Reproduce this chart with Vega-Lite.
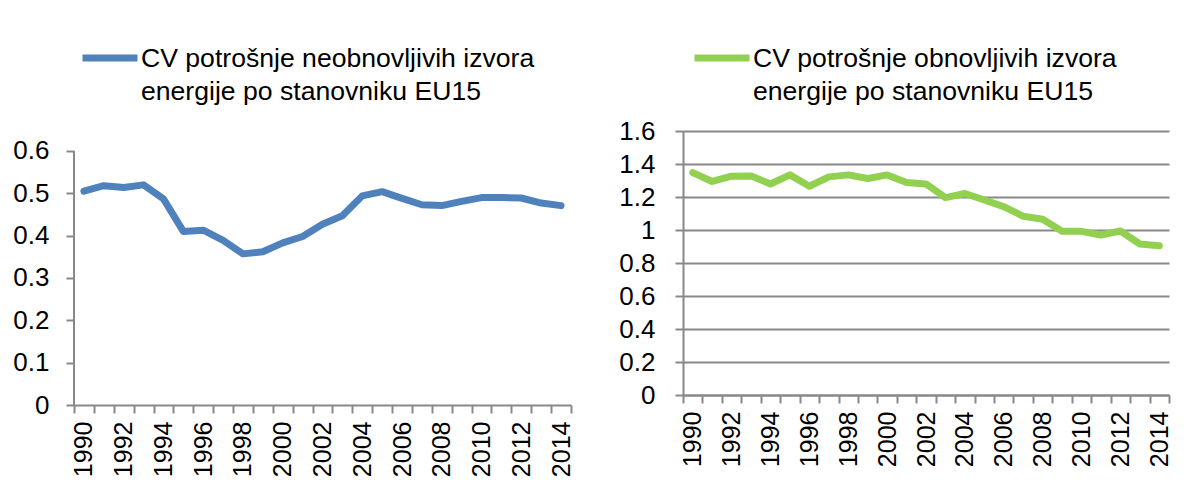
{
  "$schema": "https://vega.github.io/schema/vega-lite/v6.json",
  "background": "white",
  "padding": {"left": 12, "top": 27, "right": 0, "bottom": 0},
  "config": {
    "font": "Liberation Sans",
    "view": {"stroke": null},
    "concat": {"spacing": 43},
    "axis": {
      "title": null,
      "labelFont": "Liberation Sans",
      "labelColor": "#000000",
      "labelFontSize": 26,
      "domainColor": "#888888",
      "domainWidth": 2,
      "tickColor": "#888888",
      "tickWidth": 2,
      "tickSize": 8,
      "gridColor": "#888888",
      "gridWidth": 2
    },
    "legend": {
      "orient": "none",
      "title": null,
      "labelFont": "Liberation Sans",
      "labelFontSize": 26.6,
      "labelColor": "#000000",
      "labelLimit": 0,
      "labelBaseline": "alphabetic",
      "symbolType": "stroke",
      "symbolSize": 3025,
      "symbolStrokeWidth": 7,
      "padding": 0,
      "labelOffset": 0
    }
  },
  "datasets": {
    "nonren": [
      {"year": 1990, "cv": 0.505, "series": "CV potrošnje neobnovljivih izvora|energije po stanovniku EU15"},
      {"year": 1991, "cv": 0.518, "series": "CV potrošnje neobnovljivih izvora|energije po stanovniku EU15"},
      {"year": 1992, "cv": 0.514, "series": "CV potrošnje neobnovljivih izvora|energije po stanovniku EU15"},
      {"year": 1993, "cv": 0.520, "series": "CV potrošnje neobnovljivih izvora|energije po stanovniku EU15"},
      {"year": 1994, "cv": 0.487, "series": "CV potrošnje neobnovljivih izvora|energije po stanovniku EU15"},
      {"year": 1995, "cv": 0.410, "series": "CV potrošnje neobnovljivih izvora|energije po stanovniku EU15"},
      {"year": 1996, "cv": 0.413, "series": "CV potrošnje neobnovljivih izvora|energije po stanovniku EU15"},
      {"year": 1997, "cv": 0.389, "series": "CV potrošnje neobnovljivih izvora|energije po stanovniku EU15"},
      {"year": 1998, "cv": 0.357, "series": "CV potrošnje neobnovljivih izvora|energije po stanovniku EU15"},
      {"year": 1999, "cv": 0.362, "series": "CV potrošnje neobnovljivih izvora|energije po stanovniku EU15"},
      {"year": 2000, "cv": 0.383, "series": "CV potrošnje neobnovljivih izvora|energije po stanovniku EU15"},
      {"year": 2001, "cv": 0.398, "series": "CV potrošnje neobnovljivih izvora|energije po stanovniku EU15"},
      {"year": 2002, "cv": 0.427, "series": "CV potrošnje neobnovljivih izvora|energije po stanovniku EU15"},
      {"year": 2003, "cv": 0.447, "series": "CV potrošnje neobnovljivih izvora|energije po stanovniku EU15"},
      {"year": 2004, "cv": 0.494, "series": "CV potrošnje neobnovljivih izvora|energije po stanovniku EU15"},
      {"year": 2005, "cv": 0.504, "series": "CV potrošnje neobnovljivih izvora|energije po stanovniku EU15"},
      {"year": 2006, "cv": 0.488, "series": "CV potrošnje neobnovljivih izvora|energije po stanovniku EU15"},
      {"year": 2007, "cv": 0.473, "series": "CV potrošnje neobnovljivih izvora|energije po stanovniku EU15"},
      {"year": 2008, "cv": 0.471, "series": "CV potrošnje neobnovljivih izvora|energije po stanovniku EU15"},
      {"year": 2009, "cv": 0.481, "series": "CV potrošnje neobnovljivih izvora|energije po stanovniku EU15"},
      {"year": 2010, "cv": 0.490, "series": "CV potrošnje neobnovljivih izvora|energije po stanovniku EU15"},
      {"year": 2011, "cv": 0.490, "series": "CV potrošnje neobnovljivih izvora|energije po stanovniku EU15"},
      {"year": 2012, "cv": 0.489, "series": "CV potrošnje neobnovljivih izvora|energije po stanovniku EU15"},
      {"year": 2013, "cv": 0.477, "series": "CV potrošnje neobnovljivih izvora|energije po stanovniku EU15"},
      {"year": 2014, "cv": 0.471, "series": "CV potrošnje neobnovljivih izvora|energije po stanovniku EU15"}
    ],
    "ren": [
      {"year": 1990, "cv": 1.348, "series": "CV potrošnje obnovljivih izvora|energije po stanovniku EU15"},
      {"year": 1991, "cv": 1.294, "series": "CV potrošnje obnovljivih izvora|energije po stanovniku EU15"},
      {"year": 1992, "cv": 1.326, "series": "CV potrošnje obnovljivih izvora|energije po stanovniku EU15"},
      {"year": 1993, "cv": 1.328, "series": "CV potrošnje obnovljivih izvora|energije po stanovniku EU15"},
      {"year": 1994, "cv": 1.279, "series": "CV potrošnje obnovljivih izvora|energije po stanovniku EU15"},
      {"year": 1995, "cv": 1.334, "series": "CV potrošnje obnovljivih izvora|energije po stanovniku EU15"},
      {"year": 1996, "cv": 1.265, "series": "CV potrošnje obnovljivih izvora|energije po stanovniku EU15"},
      {"year": 1997, "cv": 1.322, "series": "CV potrošnje obnovljivih izvora|energije po stanovniku EU15"},
      {"year": 1998, "cv": 1.334, "series": "CV potrošnje obnovljivih izvora|energije po stanovniku EU15"},
      {"year": 1999, "cv": 1.312, "series": "CV potrošnje obnovljivih izvora|energije po stanovniku EU15"},
      {"year": 2000, "cv": 1.334, "series": "CV potrošnje obnovljivih izvora|energije po stanovniku EU15"},
      {"year": 2001, "cv": 1.288, "series": "CV potrošnje obnovljivih izvora|energije po stanovniku EU15"},
      {"year": 2002, "cv": 1.279, "series": "CV potrošnje obnovljivih izvora|energije po stanovniku EU15"},
      {"year": 2003, "cv": 1.196, "series": "CV potrošnje obnovljivih izvora|energije po stanovniku EU15"},
      {"year": 2004, "cv": 1.221, "series": "CV potrošnje obnovljivih izvora|energije po stanovniku EU15"},
      {"year": 2005, "cv": 1.182, "series": "CV potrošnje obnovljivih izvora|energije po stanovniku EU15"},
      {"year": 2006, "cv": 1.142, "series": "CV potrošnje obnovljivih izvora|energije po stanovniku EU15"},
      {"year": 2007, "cv": 1.083, "series": "CV potrošnje obnovljivih izvora|energije po stanovniku EU15"},
      {"year": 2008, "cv": 1.065, "series": "CV potrošnje obnovljivih izvora|energije po stanovniku EU15"},
      {"year": 2009, "cv": 0.992, "series": "CV potrošnje obnovljivih izvora|energije po stanovniku EU15"},
      {"year": 2010, "cv": 0.992, "series": "CV potrošnje obnovljivih izvora|energije po stanovniku EU15"},
      {"year": 2011, "cv": 0.970, "series": "CV potrošnje obnovljivih izvora|energije po stanovniku EU15"},
      {"year": 2012, "cv": 0.994, "series": "CV potrošnje obnovljivih izvora|energije po stanovniku EU15"},
      {"year": 2013, "cv": 0.915, "series": "CV potrošnje obnovljivih izvora|energije po stanovniku EU15"},
      {"year": 2014, "cv": 0.905, "series": "CV potrošnje obnovljivih izvora|energije po stanovniku EU15"}
    ]
  },
  "resolve": {"scale": {"color": "independent", "y": "independent"}, "legend": {"color": "independent"}},
  "hconcat": [
    {
      "width": 497,
      "height": 274,
      "data": {"name": "nonren"},
      "layer": [
        {
          "mark": {"type": "rule", "color": "#888888", "strokeWidth": 2},
          "encoding": {
            "x": {"datum": 1990, "type": "ordinal", "bandPosition": 0},
            "y": {"datum": 0, "type": "quantitative"},
            "y2": {"datum": 0.6}
          }
        },
        {
          "mark": {"type": "line", "strokeWidth": 7, "strokeCap": "round", "strokeJoin": "round"},
          "encoding": {
            "x": {
              "field": "year", "type": "ordinal",
              "scale": {"paddingInner": 0, "paddingOuter": 0},
              "axis": {"labelAngle": -90, "tickBand": "extent", "grid": false, "labelPadding": 8, "labelFontSize": 25,
                       "labelExpr": "datum.value % 2 == 0 ? datum.label : ''"}
            },
            "y": {
              "field": "cv", "type": "quantitative",
              "scale": {"domain": [0, 0.64724], "nice": false, "zero": true},
              "axis": {"values": [0, 0.1, 0.2, 0.3, 0.4, 0.5, 0.6], "format": ".1~f", "labelPadding": 17, "domain": false}
            },
            "color": {
              "field": "series", "type": "nominal",
              "scale": {"range": ["#4F81BD"]},
              "legend": {"legendX": 5, "legendY": -104, "labelExpr": "split(datum.label, '|')",
                         "encode": {"labels": {"update": {"dy": {"value": 9}, "lineHeight": {"value": 33}}}}}
            }
          }
        }
      ]
    },
    {
      "width": 486,
      "height": 264,
      "data": {"name": "ren"},
      "mark": {"type": "line", "strokeWidth": 7, "strokeCap": "round", "strokeJoin": "round"},
      "encoding": {
        "x": {
          "field": "year", "type": "ordinal",
          "scale": {"paddingInner": 0, "paddingOuter": 0},
          "axis": {"labelAngle": -90, "tickBand": "extent", "grid": false, "labelPadding": 8, "labelFontSize": 25,
                   "labelExpr": "datum.value % 2 == 0 ? datum.label : ''"}
        },
        "y": {
          "field": "cv", "type": "quantitative",
          "scale": {"domain": [0, 1.6], "nice": false, "zero": true},
          "axis": {"values": [0, 0.2, 0.4, 0.6, 0.8, 1, 1.2, 1.4, 1.6], "format": ".1~f", "labelPadding": 20}
        },
        "color": {
          "field": "series", "type": "nominal",
          "scale": {"range": ["#92D050"]},
          "legend": {"legendX": 8, "legendY": -104, "labelExpr": "split(datum.label, '|')",
                     "encode": {"labels": {"update": {"dy": {"value": 9}, "lineHeight": {"value": 33}}}}}
        }
      }
    }
  ]
}
